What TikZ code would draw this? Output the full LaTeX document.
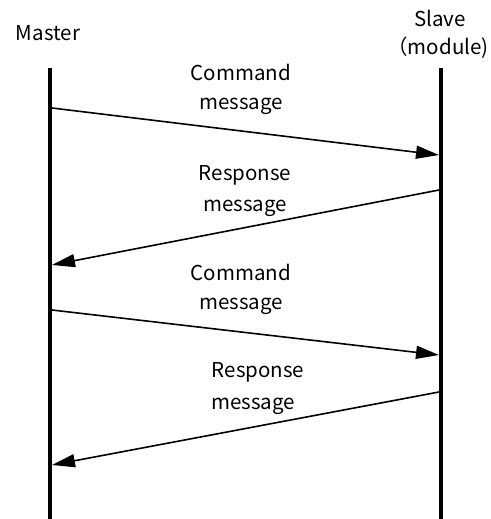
\documentclass[tikz,border=0pt]{standalone}
\usepackage{fontspec}
\setmainfont{Noto Sans CJK JP}
\usetikzlibrary{arrows.meta}

\begin{document}
\begin{tikzpicture}[x=1pt, y=-1pt, font=\fontsize{20.5}{24}\selectfont,
    lifeline/.style = {line width=3.5pt},
    msg/.style = {line width=1.6pt, -{Triangle[length=23pt, width=13pt]}},
    txt/.style = {inner sep=0pt, anchor=center}]
    \useasboundingbox (0,0) rectangle (490,519);

    % lifelines
    \coordinate (mtop) at (50,68);  \coordinate (mbot) at (50,519);
    \coordinate (stop) at (441,68); \coordinate (sbot) at (441,519);
    \draw [lifeline] (mtop) -- (mbot);
    \draw [lifeline] (stop) -- (sbot);
    \node [txt] (master) at (48,33) {Master};
    \node [txt] (slave)  at (440,18) {Slave};
    \node [txt] (module) at (438,48) {（module)};

    % message end points
    \coordinate (m1) at (52,108);  \coordinate (s1) at (439,155);
    \coordinate (s2) at (439,190); \coordinate (m2) at (52,265);
    \coordinate (m3) at (52,310);  \coordinate (s3) at (439,355);
    \coordinate (s4) at (439,392); \coordinate (m4) at (52,465);

    \draw [msg] (m1) -- (s1);
    \draw [msg] (s2) -- (m2);
    \draw [msg] (m3) -- (s3);
    \draw [msg] (s4) -- (m4);

    % labels
    \node [txt] (cmd1)  at (241,72)  {Command};
    \node [txt] (cmd1b) at (241,106) {message};
    \node [txt] (rsp1)  at (245,175) {Response};
    \node [txt] (rsp1b) at (245,208) {message};
    \node [txt] (cmd2)  at (241,272) {Command};
    \node [txt] (cmd2b) at (241,306) {message};
    \node [txt] (rsp2)  at (258,372) {Response};
    \node [txt] (rsp2b) at (253,406) {message};
\end{tikzpicture}
\end{document}
